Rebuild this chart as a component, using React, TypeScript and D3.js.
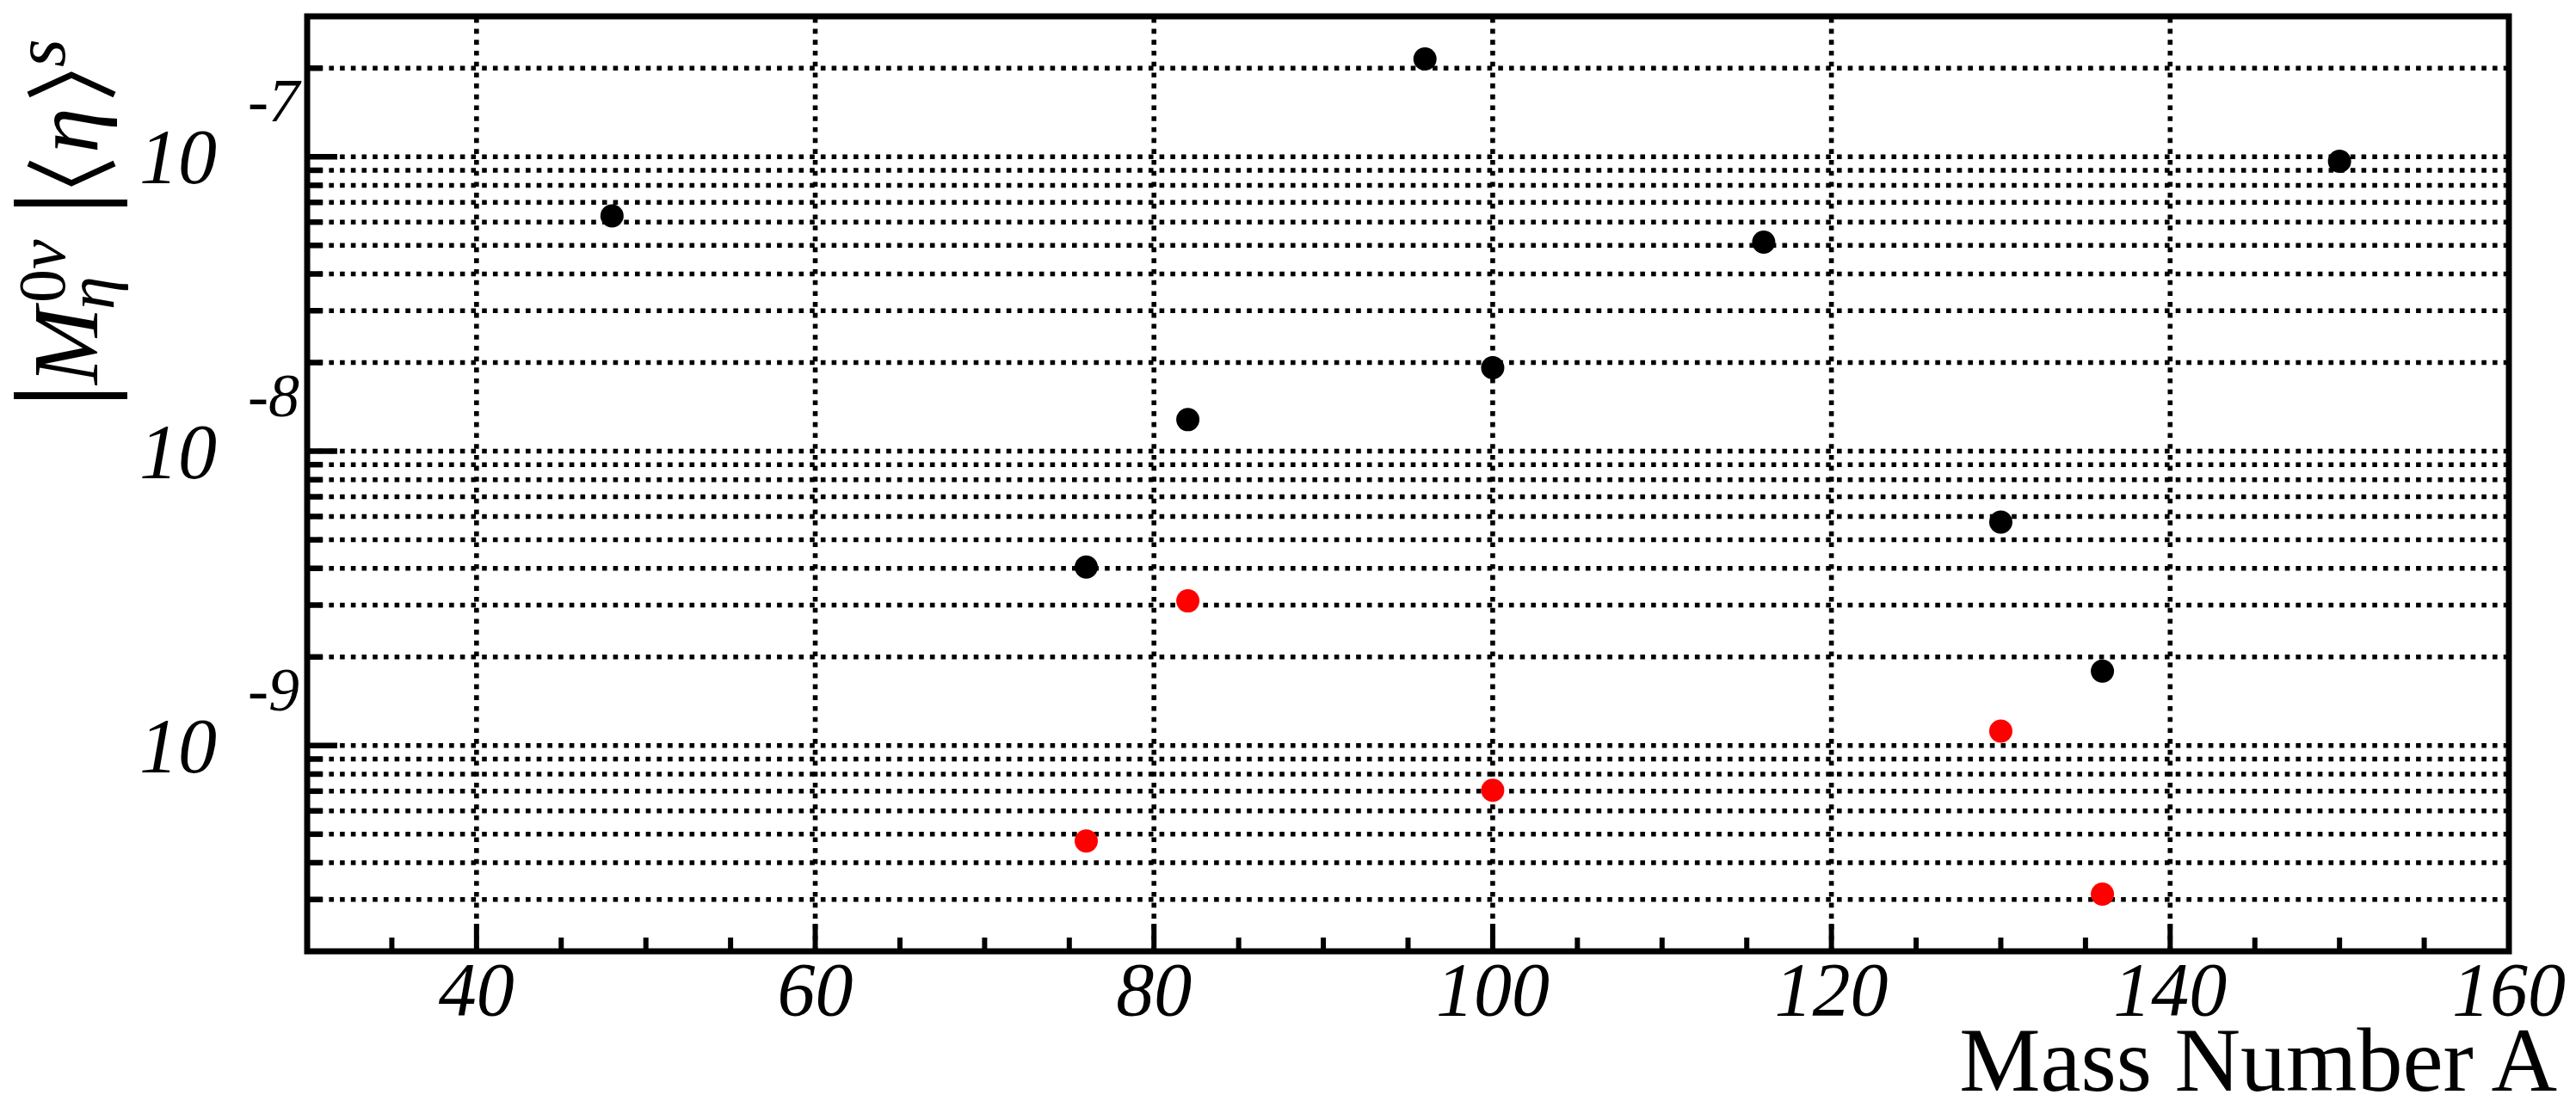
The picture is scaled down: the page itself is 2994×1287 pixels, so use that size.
import * as React from 'react';
import * as d3 from 'd3';

const width = 2994;
const height = 1287;

// Black points: |M_eta^0nu| <eta>^s, first set
const massNumbers = [48, 76, 82, 96, 100, 116, 130, 136, 150];
const blackValues = [6.3e-8, 4.04e-9, 1.28e-8, 2.15e-7, 1.92e-8, 5.13e-8, 5.74e-9, 1.79e-9, 9.66e-8];

// Red points, second set
const redMassNumbers = [76, 82, 100, 130, 136];
const redValues = [4.74e-10, 3.1e-9, 7.05e-10, 1.12e-9, 3.13e-10];

const xMajorTicks = [40, 60, 80, 100, 120, 140, 160];
const yDecades = [-7, -8, -9];

const margin = {left: 357, right: width - 2916, top: 19, bottom: height - 1106};
const serif = '"Liberation Serif", "Times New Roman", serif';

const x = d3.scaleLinear().domain([30, 160]).range([margin.left, width - margin.right]);
const y = d3.scaleLog().domain([2e-10, 3e-7]).range([height - margin.bottom, margin.top]);

const isMajor = (v: number) => Math.abs(Math.log10(v) - Math.round(Math.log10(v))) < 1e-6;

export default function App() {
  const [x0, x1] = x.range();
  const [y0, y1] = y.range();
  const yTicks = y.ticks().filter(v => y(v) > y1 + 2 && y(v) < y0 - 2);
  const xMinor = d3.range(35, 160, 5).filter(v => !xMajorTicks.includes(v));
  const gridStyle = {stroke: '#000', strokeWidth: 5.6, strokeDasharray: '5.6 7.1'};

  return (
    <svg width={width} height={height} style={{position: 'absolute', left: 0, top: 0, background: '#fff'}}>
      <rect width={width} height={height} fill="#fff" />

      {/* grid */}
      {yTicks.map(v => (
        <line key={'gy' + v} x1={x0} x2={x1} y1={y(v)} y2={y(v)} {...gridStyle} />
      ))}
      {xMajorTicks.filter(v => x(v) < x1 - 2).map(v => (
        <line key={'gx' + v} x1={x(v)} x2={x(v)} y1={y0} y2={y1} {...gridStyle} />
      ))}

      {/* ticks */}
      {yTicks.map(v => (
        <line key={'ty' + v} x1={x0} x2={x0 + (isMajor(v) ? 35 : 18)} y1={y(v)} y2={y(v)}
          stroke="#000" strokeWidth={6.5} />
      ))}
      {xMajorTicks.map(v => (
        <line key={'tx' + v} x1={x(v)} x2={x(v)} y1={y0} y2={y0 - 32} stroke="#000" strokeWidth={6} />
      ))}
      {xMinor.map(v => (
        <line key={'tm' + v} x1={x(v)} x2={x(v)} y1={y0} y2={y0 - 16} stroke="#000" strokeWidth={6} />
      ))}

      {/* frame */}
      <rect x={x0} y={y1} width={x1 - x0} height={y0 - y1} fill="none" stroke="#000" strokeWidth={7} />

      {/* points */}
      {massNumbers.map((m, i) => (
        <circle key={'b' + i} cx={x(m)} cy={y(blackValues[i])} r={13.5} fill="#000" />
      ))}
      {redMassNumbers.map((m, i) => (
        <circle key={'r' + i} cx={x(m)} cy={y(redValues[i])} r={13.5} fill="#ff0000" />
      ))}

      {/* x tick labels */}
      {xMajorTicks.map(v => (
        <text key={'lx' + v} x={x(v)} y={1180} textAnchor="middle" fontFamily={serif}
          fontStyle="italic" fontSize={88}>{v}</text>
      ))}

      {/* y tick labels */}
      {yDecades.map(e => {
        const ty = y(Math.pow(10, e));
        return (
          <g key={'ly' + e} fontFamily={serif} fontStyle="italic">
            <text x={252} y={ty + 31} textAnchor="end" fontSize={90}>10</text>
            <text x={288} y={ty - 41} fontSize={72}>{'-' + Math.abs(e)}</text>
          </g>
        );
      })}

      {/* x axis title */}
      <text x={2972} y={1268} textAnchor="end" fontFamily={serif} fontSize={106}>Mass Number A</text>

      {/* y axis title, rotated: local (u, v) -> page (v, -u) */}
      <g transform="rotate(-90)" fontFamily={serif}>
        <line x1={-460} x2={-460} y1={16} y2={148} stroke="#000" strokeWidth={8} />
        <text x={-447} y={113} fontSize={108} fontStyle="italic">M</text>
        <text x={-360} y={132} fontSize={78} fontStyle="italic">η</text>
        <text x={-352} y={75} fontSize={78}>0<tspan fontStyle="italic">ν</tspan></text>
        <line x1={-236} x2={-236} y1={16} y2={148} stroke="#000" strokeWidth={8} />
        <polyline points="-190,33 -213,83 -190,133" fill="none" stroke="#000" strokeWidth={7} />
        <text x={-178} y={113} fontSize={106} fontStyle="italic">η</text>
        <polyline points="-110,33 -87,83 -110,133" fill="none" stroke="#000" strokeWidth={7} />
        <text x={-78} y={75} fontSize={84} fontStyle="italic">s</text>
      </g>
    </svg>
  );
}
